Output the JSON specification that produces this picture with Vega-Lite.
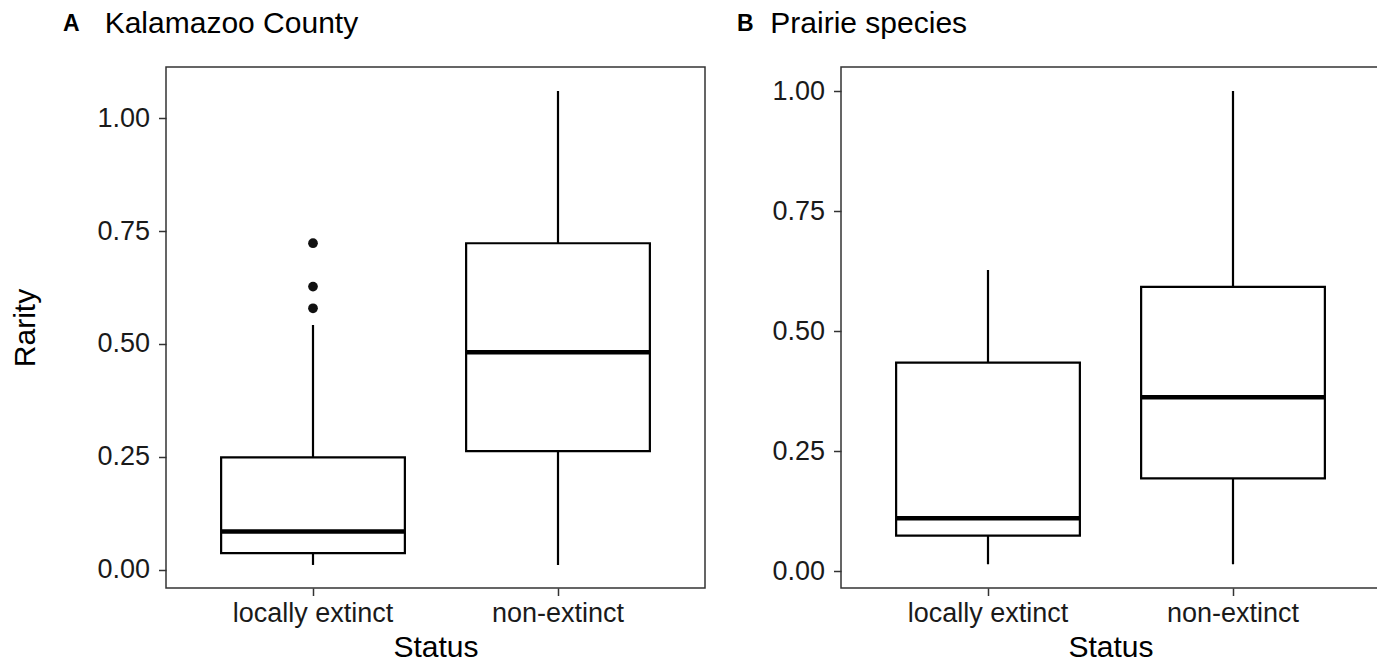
{
  "$schema": "https://vega.github.io/schema/vega-lite/v6.json",
  "padding": {"left": 10, "top": 8, "right": 0, "bottom": 0},
  "background": "white",
  "spacing": 30,
  "datasets": {
    "kal": [
      {"status": "locally extinct", "lower": 0.011, "q1": 0.037, "median": 0.085, "q3": 0.249, "upper": 0.542},
      {"status": "non-extinct", "lower": 0.011, "q1": 0.263, "median": 0.482, "q3": 0.723, "upper": 1.06}
    ],
    "kalOut": [
      {"status": "locally extinct", "rarity": 0.723},
      {"status": "locally extinct", "rarity": 0.627},
      {"status": "locally extinct", "rarity": 0.579}
    ],
    "pra": [
      {"status": "locally extinct", "lower": 0.014, "q1": 0.0736, "median": 0.11, "q3": 0.434, "upper": 0.627},
      {"status": "non-extinct", "lower": 0.014, "q1": 0.193, "median": 0.362, "q3": 0.592, "upper": 1.0}
    ]
  },
  "hconcat": [
    {
      "width": 539,
      "height": 521,
      "title": {
        "text": "A",
        "subtitle": "\u200b\u00a0\u00a0\u00a0\u00a0\u00a0Kalamazoo County",
        "anchor": "start",
        "frame": "group",
        "dx": -103,
        "font": "Liberation Sans",
        "fontSize": 23,
        "fontWeight": "bold",
        "color": "black",
        "subtitleFont": "Liberation Sans",
        "subtitleFontSize": 30,
        "subtitleColor": "black",
        "subtitlePadding": -27,
        "offset": 24
      },
      "data": {"name": "kal"},
      "encoding": {
        "x": {"field": "status", "type": "nominal", "scale": {"paddingInner": 0.25, "paddingOuter": 0.225}, "axis": {"title": "Status", "labelAngle": 0}}
      },
      "layer": [
        {
          "mark": {"type": "rule", "color": "black", "strokeWidth": 2.2},
          "encoding": {
            "y": {"field": "lower", "type": "quantitative", "title": "Rarity", "scale": {"domain": [-0.04, 1.113], "nice": false, "zero": false}, "axis": {"values": [0, 0.25, 0.5, 0.75, 1], "format": ".2f"}},
            "y2": {"field": "upper"}
          }
        },
        {
          "mark": {"type": "bar", "fill": "white", "stroke": "black", "strokeWidth": 2.2},
          "encoding": {
            "y": {"field": "q1", "type": "quantitative", "title": "Rarity"},
            "y2": {"field": "q3"}
          }
        },
        {
          "mark": {"type": "tick", "color": "black", "thickness": 4.5, "size": 184, "opacity": 1},
          "encoding": {
            "y": {"field": "median", "type": "quantitative", "title": "Rarity"}
          }
        },
        {
          "data": {"name": "kalOut"},
          "mark": {"type": "circle", "color": "#111111", "size": 95, "opacity": 1},
          "encoding": {
            "y": {"field": "rarity", "type": "quantitative", "title": "Rarity"}
          }
        }
      ]
    },
    {
      "width": 539,
      "height": 521,
      "title": {
        "text": "B",
        "subtitle": "\u200b\u00a0\u00a0\u00a0\u00a0Prairie species",
        "anchor": "start",
        "frame": "group",
        "dx": -104,
        "font": "Liberation Sans",
        "fontSize": 23,
        "fontWeight": "bold",
        "color": "black",
        "subtitleFont": "Liberation Sans",
        "subtitleFontSize": 30,
        "subtitleColor": "black",
        "subtitlePadding": -27,
        "offset": 24
      },
      "data": {"name": "pra"},
      "encoding": {
        "x": {"field": "status", "type": "nominal", "scale": {"paddingInner": 0.25, "paddingOuter": 0.225}, "axis": {"title": "Status", "labelAngle": 0}}
      },
      "layer": [
        {
          "mark": {"type": "rule", "color": "black", "strokeWidth": 2.2},
          "encoding": {
            "y": {"field": "lower", "type": "quantitative", "title": null, "scale": {"domain": [-0.0354, 1.05], "nice": false, "zero": false}, "axis": {"values": [0, 0.25, 0.5, 0.75, 1], "format": ".2f"}},
            "y2": {"field": "upper"}
          }
        },
        {
          "mark": {"type": "bar", "fill": "white", "stroke": "black", "strokeWidth": 2.2},
          "encoding": {
            "y": {"field": "q1", "type": "quantitative", "title": null},
            "y2": {"field": "q3"}
          }
        },
        {
          "mark": {"type": "tick", "color": "black", "thickness": 4.5, "size": 184, "opacity": 1},
          "encoding": {
            "y": {"field": "median", "type": "quantitative", "title": null}
          }
        }
      ]
    }
  ],
  "config": {
    "font": "Liberation Sans",
    "view": {"stroke": "#333333", "strokeWidth": 1.5},
    "axis": {
      "grid": false,
      "domain": false,
      "tickColor": "#333333",
      "tickWidth": 1.5,
      "tickSize": 7.5,
      "labelPadding": 5,
      "labelFont": "Liberation Sans",
      "labelFontSize": 27,
      "labelColor": "#1a1a1a",
      "titleFont": "Liberation Sans",
      "titleFontSize": 30,
      "titleFontWeight": "normal",
      "titleColor": "black"
    },
    "axisY": {"titlePadding": 56, "labelPadding": 9},
    "axisX": {"titlePadding": 6}
  }
}
